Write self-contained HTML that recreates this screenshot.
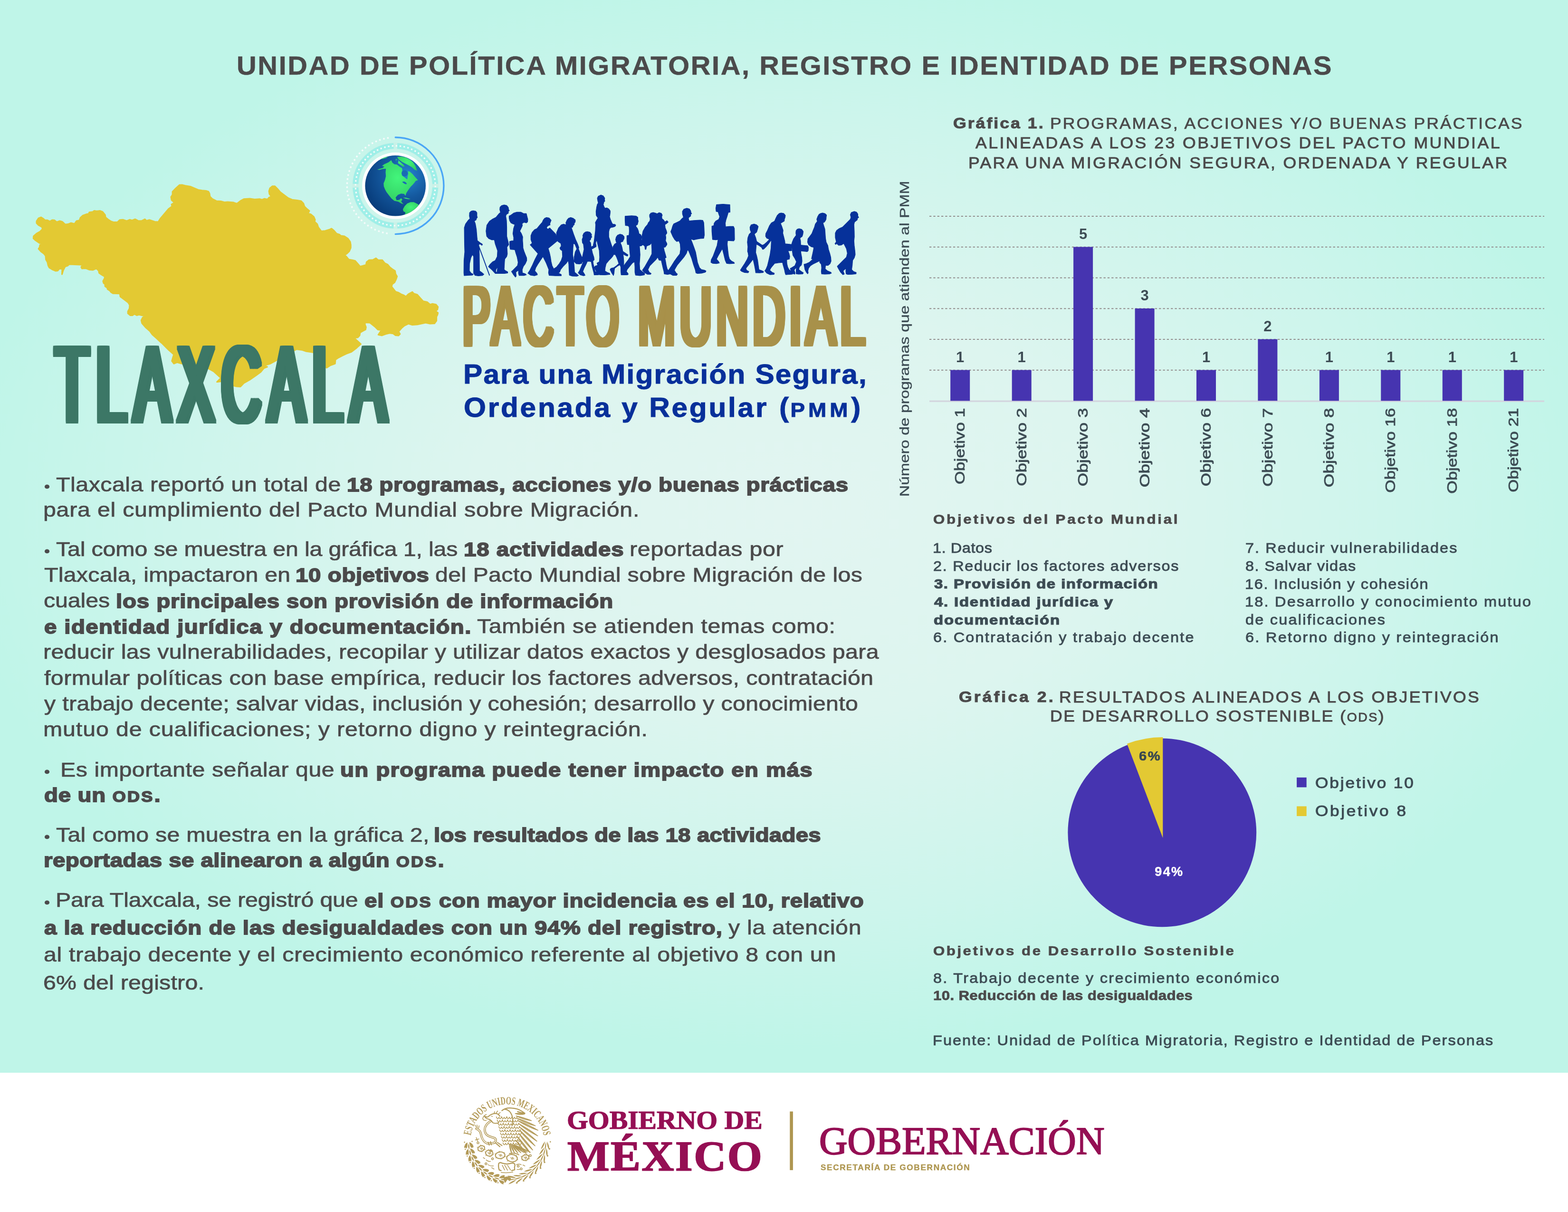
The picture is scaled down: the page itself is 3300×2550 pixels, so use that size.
<!DOCTYPE html>
<html lang="es">
<head>
<meta charset="utf-8">
<title>Tlaxcala — Pacto Mundial para una Migración Segura, Ordenada y Regular</title>
<style>
html,body{margin:0;padding:0}
body{width:3300px;height:2550px;position:relative;overflow:hidden;background:#ffffff;font-family:"Liberation Sans", sans-serif;}
#page{position:absolute;left:0;top:0;width:3300px;height:2550px;overflow:hidden;background:#fff}
#bg{position:absolute;left:0;top:0;width:3300px;height:2257px;background-color:#c0f5e9;
 background-image:radial-gradient(ellipse 1760px 1130px at 1660px 1080px, #e2f5f1 0%, #ddf5ef 38%, #cdf5ec 74%, #bff5e8 100%);}
#footer{position:absolute;left:0;top:2257px;width:3300px;height:293px;background:#ffffff}
svg#art{position:absolute;left:0;top:0}
.g{margin:0;padding:0;font-weight:400;font-size:0;position:static}
.t{position:absolute;white-space:pre;line-height:1;transform-origin:0 0;display:block;margin:0;padding:0}
.ss{font-family:"Liberation Sans", sans-serif}
.sf{font-family:"Liberation Serif", serif}
b.t{font-weight:700}
span.t{font-weight:400}
.sc{font-size:0.76em;letter-spacing:0.09em}
.sc2{font-size:0.76em;letter-spacing:0.15em}
svg text{white-space:pre}
</style>
</head>
<body>
<div id="page">
<div id="bg"></div>
<div id="footer"></div>
<svg id="art" width="3300" height="2550" viewBox="0 0 3300 2550">
<g id="map"><path d="M77.0 465.4 L81.1 459.2 L86.3 457.1 L91.5 460.2 L94.6 463.3 L99.8 463.3 L105.0 465.8 L110.1 462.9 L114.3 463.3 L119.5 467.1 L125.7 465.0 L130.9 466.4 L137.1 472.2 L143.3 471.6 L149.5 469.1 L156.8 471.0 L160.9 465.0 L167.2 463.7 L169.2 458.1 L174.4 453.4 L182.7 450.5 L186.9 449.8 L187.9 446.7 L195.2 445.7 L198.3 443.6 L203.5 444.2 L210.7 443.6 L215.9 445.7 L221.1 451.9 L222.1 457.1 L228.3 462.3 L233.5 465.8 L238.7 467.5 L247.0 467.5 L252.2 462.7 L259.4 462.3 L266.7 464.8 L272.9 462.3 L278.1 463.7 L284.3 461.2 L290.6 464.4 L297.8 464.8 L305.1 461.2 L308.2 464.4 L314.4 462.7 L319.6 464.4 L325.8 466.4 L333.1 467.1 L337.2 460.2 L354.8 439.5 L362.1 434.3 L361.1 430.1 L367.3 426.4 L361.1 420.8 L360.0 414.6 L363.1 409.4 L363.1 403.2 L370.4 395.9 L377.6 389.3 L383.9 389.1 L390.1 390.7 L400.5 392.4 L408.8 395.9 L417.1 399.4 L425.3 400.7 L433.6 401.5 L438.8 403.2 L440.9 407.3 L441.9 413.5 L447.1 418.7 L455.4 422.9 L464.7 423.5 L473.0 425.6 L479.3 425.0 L491.7 426.0 L490.4 426.0 L498.7 428.5 L505.9 422.9 L513.2 418.7 L525.6 418.1 L536.0 419.4 L546.4 418.7 L551.5 420.2 L556.7 418.1 L562.9 419.4 L566.1 415.6 L571.2 413.5 L567.1 408.4 L566.1 402.1 L568.1 395.9 L573.3 391.8 L578.5 391.8 L583.7 397.0 L589.9 404.2 L598.2 410.4 L606.5 416.7 L614.8 420.2 L625.2 421.4 L633.5 422.9 L638.6 428.1 L640.7 434.3 L645.9 439.5 L651.1 443.6 L648.4 448.8 L654.2 450.9 L660.4 456.1 L663.1 462.3 L662.1 466.4 L667.7 471.6 L669.7 477.8 L676.0 486.5 L684.3 485.7 L693.6 483.0 L697.7 480.9 L702.9 485.1 L708.1 491.3 L714.3 493.4 L717.4 496.1 L724.7 496.9 L732.0 501.7 L737.1 508.9 L738.2 515.2 L738.2 521.4 L735.1 528.6 L729.9 533.8 L724.7 536.9 L728.8 539.6 L734.0 545.9 L741.3 547.3 L747.5 548.8 L751.7 553.5 L757.9 560.8 L764.1 559.1 L770.3 557.3 L771.4 551.5 L776.5 547.3 L784.8 546.7 L791.1 543.2 L796.2 547.3 L804.5 547.3 L809.7 553.5 L815.9 556.6 L820.1 561.8 L825.3 566.0 L831.5 570.1 L832.5 576.3 L835.6 581.5 L833.6 587.7 L830.5 594.0 L825.3 598.1 L824.2 603.3 L828.4 608.5 L832.5 613.7 L838.8 615.7 L843.9 618.8 L849.1 620.9 L854.3 624.0 L859.5 618.8 L867.8 614.3 L870.9 617.8 L878.2 619.9 L884.4 627.1 L890.6 633.8 L898.9 635.4 L905.1 640.6 L910.3 639.2 L917.6 640.6 L921.7 645.8 L920.7 651.0 L916.5 654.5 L921.7 658.2 L920.7 662.4 L918.6 666.5 L918.6 674.8 L914.4 680.6 L905.1 681.1 L895.8 679.0 L886.5 681.1 L878.2 682.7 L867.8 683.5 L859.5 681.1 L851.2 685.2 L845.0 690.4 L838.8 697.6 L841.9 702.8 L838.8 705.9 L832.5 705.5 L827.4 701.8 L820.1 700.8 L811.8 702.8 L803.5 705.9 L796.2 704.3 L799.4 699.7 L802.5 694.5 L795.2 693.5 L789.0 687.3 L778.6 679.0 L768.2 678.4 L768.2 683.1 L770.3 688.3 L769.3 693.5 L763.1 696.6 L757.9 699.7 L756.8 705.9 L752.7 710.1 L745.4 711.1 L759.3 723.8 L750.5 732.0 L739.6 740.3 L728.6 744.4 L720.3 748.5 L712.1 752.6 L706.0 756.8 L705.2 765.0 L695.6 768.6 L687.4 773.8 L683.2 771.3 L662.6 742.2 L657.1 741.1 L643.4 738.9 L635.2 736.2 L624.2 734.8 L569.2 765.0 L555.5 769.1 L562.4 771.9 L555.5 774.6 L548.6 782.9 L539.0 789.7 L525.3 799.3 L512.9 806.2 L506.0 813.6 L497.8 813.1 L475.8 807.6 L470.3 802.1 L456.6 803.5 L464.8 795.2 L449.7 781.5 L437.4 774.6 L418.1 767.7 L382.4 765.0 L372.8 762.3 L365.9 765.0 L361.8 759.5 L363.7 752.6 L365.9 745.8 L354.9 736.2 L341.2 722.4 L338.2 720.0 L330.0 712.2 L320.6 703.9 L315.4 696.6 L307.1 689.4 L298.8 680.0 L297.4 673.8 L299.9 668.6 L304.7 664.1 L297.8 663.4 L292.6 662.0 L288.1 663.4 L282.7 660.7 L279.1 663.4 L274.0 663.4 L269.2 659.3 L269.2 655.1 L272.5 648.9 L272.9 641.7 L269.8 636.5 L263.6 631.7 L253.2 624.0 L252.2 617.8 L237.7 617.2 L233.5 614.7 L230.8 611.2 L226.3 608.5 L225.6 605.4 L221.1 602.3 L221.1 598.1 L218.0 595.6 L216.9 591.5 L220.0 585.7 L220.5 581.9 L213.8 578.0 L208.6 574.3 L207.6 569.5 L203.0 564.9 L195.2 568.0 L187.9 567.4 L180.6 564.5 L172.4 564.9 L170.9 561.8 L174.0 557.3 L157.8 556.6 L145.8 556.0 L142.3 559.1 L137.1 560.8 L132.9 569.1 L130.5 577.0 L130.9 565.6 L124.7 565.6 L121.5 569.5 L117.4 570.1 L110.1 567.0 L103.5 562.9 L101.4 558.7 L99.8 551.5 L96.7 546.3 L96.0 538.4 L92.5 533.8 L86.3 529.3 L81.1 523.5 L83.2 520.3 L84.2 515.2 L89.0 513.1 L83.2 511.4 L74.9 505.8 L70.3 501.7 L70.7 496.9 L77.0 491.3 L84.2 487.2 L89.4 482.0 L88.4 477.8 L81.1 473.7 L77.0 469.5Z" fill="#e3c933" stroke="#e3c933" stroke-width="3" stroke-linejoin="round"/></g>
<g id="globe"><defs><radialGradient id="gl" cx="0.68" cy="0.32" r="0.85"><stop offset="0" stop-color="#2484d0"/><stop offset="0.45" stop-color="#14589e"/><stop offset="1" stop-color="#043470"/></radialGradient><radialGradient id="gg" cx="0.5" cy="0.4" r="0.7"><stop offset="0" stop-color="#43f57b"/><stop offset="1" stop-color="#2fc75f"/></radialGradient><clipPath id="gc"><circle cx="832.2" cy="390.8" r="63.8"/></clipPath></defs>
<circle cx="832.2" cy="390.8" r="84" fill="none" stroke="#c9ece4" stroke-width="14" opacity="0.55"/>
<path d="M916.11 394.61 A84.0 84.0 0 0 1 836.01 474.71" fill="none" stroke="#9eefe8" stroke-width="12"/>
<path d="M828.39 474.71 A84.0 84.0 0 0 1 748.29 394.61" fill="none" stroke="#9eefe8" stroke-width="12"/>
<path d="M748.29 386.99 A84.0 84.0 0 0 1 828.39 306.89" fill="none" stroke="#9eefe8" stroke-width="12"/>
<path d="M836.01 306.89 A84.0 84.0 0 0 1 916.11 386.99" fill="none" stroke="#9eefe8" stroke-width="12"/>
<circle cx="832.2" cy="390.8" r="84" fill="none" stroke="#f6fbfa" stroke-width="3.2" stroke-dasharray="3.2 5.047"/>
<path d="M818.03 289.99 A101.8 101.8 0 0 0 818.03 491.61" fill="none" stroke="#f6fbfa" stroke-width="3.4" stroke-dasharray="3.4 5.244"/>
<path d="M832.20 289.00 A101.8 101.8 0 0 1 832.20 492.60" fill="none" stroke="#4aa6f6" stroke-width="3.4" stroke-linecap="round"/>
<circle cx="832.2" cy="390.8" r="70" fill="#ffffff"/>
<circle cx="832.2" cy="390.8" r="63.8" fill="url(#gl)"/>
<g clip-path="url(#gc)" fill="url(#gg)">
<path d="M793.8 356.8 L799.9 355.1 L805.4 353.4 L808.8 350.4 L804.0 349.0 L808.8 345.6 L817.6 341.5 L823.4 337.0 L825.8 342.2 L829.9 345.6 L835.3 346.3 L840.8 350.4 L846.2 353.8 L846.9 358.6 L844.9 364.0 L846.2 369.5 L850.3 372.2 L854.4 375.6 L857.1 377.6 L857.8 372.2 L859.2 365.4 L858.5 359.9 L862.6 361.3 L868.0 366.0 L873.5 372.2 L879.6 379.0 L874.9 380.6 L872.1 384.4 L868.7 388.5 L864.6 392.6 L859.9 398.7 L855.1 406.2 L853.3 412.0 L850.6 407.9 L844.2 407.3 L837.4 410.1 L832.6 415.5 L834.7 421.2 L840.1 420.5 L844.2 417.1 L846.9 419.9 L844.2 423.7 L847.6 428.0 L850.3 429.7 L844.9 428.3 L838.1 424.2 L829.9 422.6 L823.8 417.4 L818.3 410.6 L813.5 404.2 L810.1 398.1 L807.8 391.9 L807.3 385.8 L810.1 379.0 L812.2 370.8 L811.5 362.6 L812.2 355.1 L805.4 355.6 L798.6 357.5Z"/>
<path d="M836.0 330.2 L844.9 329.4 L854.4 331.6 L862.6 335.7 L869.4 341.5 L874.2 349.0 L877.8 359.2 L872.8 357.2 L866.7 351.7 L859.9 347.7 L853.1 344.3 L846.2 340.8 L840.8 336.8 L837.4 333.4Z"/>
<path d="M833.3 334.0 L837.4 335.4 L840.8 339.5 L844.9 342.9 L849.0 346.3 L851.7 350.4 L847.6 350.4 L842.8 347.0 L838.7 344.3 L834.7 340.8 L832.6 337.4Z"/>
<path d="M847.9 440.3 L851.7 433.5 L857.1 428.0 L864.0 425.3 L870.8 425.3 L876.5 428.0 L881.4 430.8 L877.6 436.9 L872.1 442.3 L865.3 447.1 L857.8 450.5 L851.7 451.9 L853.3 447.1 L849.0 444.4Z"/>
<path d="M797.2 335.7 L805.4 332.0 L816.5 329.7 L813.5 332.1 L805.4 334.3Z"/>
<path d="M847.6 415.5 L854.4 416.0 L859.9 417.4 L864.0 418.8 L859.9 419.2 L853.1 417.8Z"/>
</g>
<g clip-path="url(#gc)" fill="#1a6ab4"><ellipse cx="851.7" cy="364.7" rx="6.2" ry="6.5"/><path d="M846.2 382.8 L850.3 381.7 L854.4 383.8 L856.5 387.2 L853.1 387.4 L849.6 385.5Z"/><path d="M833.3 338.1 L836.0 334.0 L838.7 338.1 L837.4 343.6 L834.7 344.3Z"/></g></g>
<g id="people"><g fill="#06319a" stroke="#06319a" stroke-width="1.2" stroke-linejoin="round">
<path d="M995.7 443.3 L1001.2 444.3 L1003.7 447.7 L1003.7 454.6 L1004.6 457.3 L1002.9 459.4 L1001.9 462.8 L998.2 464.9 L1000.5 471.0 L1002.6 483.4 L1003.7 497.1 L1004.6 506.1 L1010.8 510.9 L1014.3 512.9 L1015.4 515.0 L1013.8 516.1 L1010.8 513.4 L1007.4 514.3 L1008.4 520.5 L1008.8 534.2 L1009.2 569.9 L1014.9 574.1 L1018.4 577.1 L1015.6 579.6 L1006.7 580.5 L999.8 579.3 L996.8 574.8 L996.8 539.7 L994.3 535.6 L990.9 542.5 L988.2 554.8 L987.9 569.9 L991.6 574.8 L996.0 577.1 L994.3 578.9 L984.0 579.3 L976.8 579.8 L976.2 574.1 L976.5 548.0 L978.1 530.1 L977.6 513.6 L977.2 479.3 L979.9 471.0 L985.4 463.5 L989.1 460.1 L987.9 454.6 L988.2 447.7 L991.3 444.3Z"/>
<path d="M1061.0 431.2 L1066.5 432.3 L1069.9 436.7 L1070.3 440.8 L1072.0 442.9 L1069.9 444.9 L1069.9 448.4 L1065.8 451.1 L1064.4 454.6 L1066.0 464.2 L1066.5 477.9 L1066.5 497.1 L1069.9 510.9 L1070.6 515.0 L1068.5 517.7 L1066.9 519.8 L1067.8 534.2 L1066.5 539.7 L1062.3 545.2 L1061.6 554.8 L1061.0 567.2 L1064.4 569.9 L1068.5 572.0 L1068.5 574.3 L1061.6 575.4 L1047.9 575.2 L1045.9 571.3 L1047.9 560.3 L1043.8 567.2 L1043.1 571.3 L1047.9 575.4 L1042.4 575.4 L1036.2 568.6 L1028.0 561.0 L1031.4 556.2 L1036.9 550.7 L1042.4 548.0 L1046.5 539.7 L1047.2 527.4 L1042.4 513.6 L1040.4 504.7 L1034.9 504.7 L1028.7 502.0 L1024.3 497.1 L1022.9 486.2 L1024.6 473.8 L1030.1 465.5 L1036.9 460.7 L1043.8 457.3 L1050.0 449.8 L1053.4 447.0 L1051.8 440.8 L1052.3 436.0 L1055.5 432.6Z"/>
<path d="M1071.5 454.6 L1075.4 452.5 L1080.9 448.4 L1087.7 446.3 L1096.0 446.3 L1101.5 449.1 L1107.7 449.3 L1109.0 454.6 L1110.8 461.4 L1110.4 466.9 L1107.7 469.0 L1102.9 467.6 L1098.7 470.4 L1099.4 474.5 L1097.4 479.3 L1095.3 483.4 L1093.9 486.2 L1097.4 491.6 L1100.1 498.5 L1099.8 505.4 L1100.4 513.6 L1100.8 521.9 L1102.9 528.7 L1105.6 535.6 L1108.4 542.5 L1108.6 548.0 L1105.6 554.8 L1101.5 560.3 L1099.0 567.2 L1099.4 574.1 L1105.6 576.1 L1107.7 578.2 L1102.9 579.6 L1092.6 579.6 L1091.2 575.4 L1091.2 568.6 L1089.1 569.9 L1085.7 572.7 L1086.4 580.9 L1084.7 583.0 L1080.9 578.2 L1076.5 571.3 L1079.5 568.6 L1083.6 564.5 L1089.1 559.0 L1090.5 552.1 L1088.4 541.1 L1085.7 532.9 L1083.6 525.3 L1074.0 524.6 L1072.9 519.1 L1072.6 508.1 L1076.8 506.8 L1080.9 506.5 L1081.2 499.9 L1079.5 491.6 L1080.9 480.7 L1083.6 472.4 L1079.5 471.0 L1075.4 469.0 L1072.6 464.2 L1071.5 458.7Z"/>
<path d="M1150.2 457.6 L1155.7 458.7 L1159.9 463.5 L1158.5 466.9 L1157.1 471.0 L1157.8 473.1 L1154.4 474.5 L1151.6 476.5 L1150.2 479.3 L1153.0 482.3 L1157.1 479.6 L1169.5 492.3 L1172.9 506.8 L1153.7 522.6 L1156.4 531.5 L1158.5 541.1 L1159.9 550.7 L1161.9 559.0 L1165.4 565.8 L1174.3 574.1 L1181.2 577.5 L1181.2 580.2 L1168.8 580.2 L1155.7 579.3 L1154.4 574.1 L1155.1 567.2 L1149.6 553.5 L1142.7 539.7 L1137.2 548.0 L1131.7 556.2 L1127.6 563.1 L1125.5 569.9 L1130.3 575.4 L1131.0 578.2 L1124.8 580.2 L1116.6 578.9 L1111.1 574.8 L1115.2 568.6 L1120.7 557.6 L1126.2 545.2 L1132.4 533.5 L1115.9 515.0 L1120.0 511.6 L1117.3 504.0 L1117.3 495.8 L1120.0 488.9 L1124.8 483.4 L1130.3 480.7 L1135.8 473.8 L1141.3 467.6 L1143.4 462.8 L1146.1 459.4Z"/>
<path d="M1201.1 457.6 L1206.6 459.4 L1210.7 462.8 L1210.7 466.9 L1208.6 469.7 L1208.6 472.4 L1205.9 475.2 L1205.2 477.9 L1202.4 478.6 L1204.5 484.8 L1207.3 493.0 L1211.4 504.0 L1215.5 512.9 L1218.2 520.5 L1217.6 523.9 L1221.0 532.9 L1224.4 541.1 L1225.8 549.3 L1224.4 554.1 L1219.6 555.5 L1212.7 554.8 L1208.6 550.7 L1208.4 541.1 L1210.7 530.1 L1214.1 523.9 L1210.0 513.6 L1206.6 512.3 L1205.9 521.9 L1205.2 535.6 L1207.3 548.0 L1208.6 561.7 L1209.3 572.7 L1214.1 576.8 L1217.6 579.6 L1214.1 581.2 L1204.5 580.9 L1198.3 578.9 L1197.6 568.6 L1197.0 554.8 L1195.6 548.0 L1192.1 553.5 L1185.3 560.3 L1179.8 567.2 L1177.7 572.7 L1174.3 574.1 L1165.4 565.8 L1171.5 561.7 L1177.0 554.8 L1181.2 548.0 L1183.9 539.7 L1183.2 527.4 L1179.8 525.3 L1178.4 521.9 L1181.2 517.7 L1180.5 512.3 L1174.3 508.1 L1170.9 498.5 L1171.5 488.9 L1175.7 479.3 L1181.2 473.1 L1186.0 471.7 L1192.1 473.1 L1190.8 469.0 L1193.5 462.8 L1196.3 459.4Z"/>
<path d="M1236.1 487.3 L1241.6 488.6 L1245.0 493.0 L1244.6 497.1 L1245.7 498.5 L1243.7 500.6 L1243.0 504.0 L1240.2 506.8 L1243.0 510.9 L1243.7 516.4 L1244.1 519.8 L1249.8 516.4 L1254.6 515.7 L1254.6 519.1 L1248.5 522.6 L1245.0 523.9 L1247.1 532.9 L1249.8 541.1 L1250.5 546.6 L1247.8 549.3 L1248.5 554.8 L1250.5 563.1 L1252.6 571.3 L1258.8 574.1 L1260.0 578.2 L1250.5 578.5 L1249.8 574.1 L1246.4 561.7 L1244.3 550.7 L1241.6 550.0 L1236.1 550.0 L1233.4 556.2 L1229.2 564.5 L1226.5 571.3 L1229.2 575.4 L1231.3 579.3 L1227.9 580.2 L1221.0 578.2 L1216.9 574.1 L1220.3 568.6 L1223.7 560.3 L1227.2 552.1 L1225.8 549.3 L1225.1 543.8 L1227.2 534.2 L1229.2 524.6 L1227.9 513.6 L1225.8 510.9 L1225.1 504.0 L1227.2 498.5 L1226.5 495.8 L1228.5 491.0 L1232.0 488.2Z"/>
<path d="M1264.7 410.3 L1269.5 412.0 L1272.7 416.8 L1272.3 420.9 L1273.0 423.0 L1270.9 425.0 L1270.5 427.8 L1269.5 429.8 L1270.9 434.0 L1273.0 438.1 L1277.1 437.4 L1281.2 439.5 L1284.2 443.6 L1284.2 447.7 L1283.7 451.8 L1282.9 455.9 L1284.6 461.4 L1287.4 468.3 L1289.5 471.7 L1294.3 472.1 L1296.0 473.8 L1294.3 476.5 L1290.1 477.9 L1285.3 478.6 L1282.6 482.0 L1281.2 487.5 L1281.2 498.5 L1284.0 506.8 L1286.7 515.0 L1289.5 523.2 L1292.2 532.9 L1290.1 538.4 L1286.7 542.5 L1281.2 548.0 L1275.7 554.8 L1273.7 563.1 L1273.0 569.9 L1278.5 573.4 L1282.6 574.8 L1283.7 577.5 L1273.0 578.5 L1262.0 578.2 L1256.5 574.1 L1253.0 567.2 L1251.0 562.4 L1253.0 559.6 L1257.9 558.3 L1256.5 553.5 L1261.3 550.7 L1262.0 541.1 L1261.3 527.4 L1257.9 513.6 L1255.8 504.0 L1253.7 510.9 L1254.4 516.4 L1251.7 518.4 L1248.5 515.7 L1250.3 508.1 L1251.7 497.1 L1253.0 486.2 L1253.7 472.4 L1253.0 468.3 L1255.1 464.2 L1258.5 458.7 L1254.8 453.2 L1254.4 444.9 L1255.8 435.3 L1257.2 429.8 L1259.2 427.1 L1257.9 421.6 L1257.2 416.8 L1259.2 412.7Z"/>
<path d="M1304.6 492.7 L1310.1 494.1 L1313.5 497.8 L1313.5 502.0 L1311.4 506.1 L1310.7 508.1 L1307.3 509.2 L1305.7 510.9 L1308.0 516.4 L1309.4 521.9 L1310.7 528.7 L1316.9 532.9 L1321.7 536.3 L1320.4 539.0 L1315.5 537.0 L1311.4 534.2 L1312.1 541.1 L1312.8 549.3 L1312.8 559.0 L1311.4 567.2 L1316.2 571.3 L1321.0 574.8 L1322.1 577.1 L1315.5 578.5 L1307.3 578.2 L1306.6 569.9 L1306.6 561.7 L1304.6 556.9 L1299.1 560.3 L1293.6 564.5 L1292.9 568.6 L1292.2 575.4 L1291.1 579.6 L1287.4 574.1 L1284.0 567.2 L1286.0 564.5 L1292.2 563.1 L1297.7 559.0 L1302.5 554.8 L1300.4 548.0 L1297.7 541.1 L1294.9 535.6 L1290.8 535.6 L1289.5 527.4 L1290.1 519.1 L1293.6 513.6 L1297.7 510.9 L1299.8 506.8 L1297.0 509.5 L1295.6 504.0 L1297.0 498.5 L1299.8 494.7Z"/>
<path d="M1315.5 454.8 L1329.3 453.9 L1338.9 454.6 L1342.3 457.3 L1342.3 461.4 L1343.3 465.5 L1342.3 469.0 L1341.6 472.4 L1338.9 473.8 L1338.2 476.5 L1341.6 480.7 L1343.7 486.2 L1344.7 491.6 L1348.5 493.7 L1350.6 498.5 L1349.9 504.0 L1351.3 509.5 L1352.6 515.0 L1349.9 517.1 L1345.8 517.7 L1346.5 527.4 L1347.1 535.6 L1346.5 545.2 L1345.8 554.8 L1346.5 567.2 L1351.3 571.3 L1356.8 575.4 L1356.1 578.5 L1347.1 579.8 L1337.5 578.9 L1336.2 572.7 L1336.2 561.7 L1335.5 550.7 L1330.7 553.5 L1325.2 560.3 L1319.7 567.2 L1318.3 571.3 L1321.7 575.4 L1321.0 578.2 L1314.2 578.5 L1308.0 578.2 L1307.3 573.4 L1311.4 561.7 L1316.9 553.5 L1322.4 546.6 L1326.5 539.7 L1325.2 527.4 L1324.5 515.0 L1320.4 514.3 L1319.4 506.8 L1319.4 495.8 L1323.8 495.1 L1324.5 486.2 L1324.1 477.9 L1322.4 475.2 L1316.2 474.5 L1315.5 464.2Z"/>
<path d="M1367.1 451.8 L1369.8 448.4 L1374.6 447.0 L1379.4 448.4 L1382.9 449.8 L1387.0 447.4 L1391.8 448.8 L1393.8 452.5 L1392.7 455.9 L1393.2 460.1 L1396.6 462.8 L1399.3 466.9 L1403.5 464.2 L1406.2 467.2 L1402.8 470.4 L1399.3 472.4 L1400.0 479.3 L1402.8 486.2 L1403.5 490.3 L1400.7 494.4 L1401.4 499.9 L1400.7 506.8 L1403.5 512.3 L1403.5 515.0 L1400.0 519.8 L1396.6 520.5 L1398.0 527.4 L1400.0 534.2 L1402.1 541.8 L1399.3 543.2 L1400.7 549.3 L1402.1 557.6 L1404.1 565.8 L1406.9 569.9 L1411.7 573.4 L1412.4 576.1 L1404.8 577.5 L1398.0 576.5 L1397.3 571.3 L1395.2 563.1 L1391.8 548.0 L1387.0 547.3 L1384.2 541.1 L1380.1 546.6 L1374.6 552.1 L1367.7 559.0 L1363.6 567.2 L1366.4 572.7 L1370.5 575.4 L1369.1 577.1 L1362.3 577.1 L1355.4 572.7 L1352.0 568.6 L1356.8 561.7 L1362.3 552.1 L1367.7 542.5 L1371.9 534.2 L1371.9 524.6 L1371.2 510.9 L1367.7 515.0 L1360.9 517.7 L1359.5 524.6 L1357.9 524.6 L1356.8 517.7 L1353.3 515.0 L1351.5 508.1 L1351.0 497.1 L1353.3 486.2 L1358.1 477.9 L1362.9 472.4 L1364.3 469.0 L1367.7 464.9 L1368.4 460.1 L1367.1 455.9Z"/>
<path d="M1445.4 438.1 L1450.9 439.5 L1453.6 443.6 L1454.3 447.7 L1455.7 449.3 L1453.6 451.1 L1453.6 454.6 L1450.9 456.6 L1448.8 458.7 L1450.2 464.9 L1459.8 463.9 L1473.5 463.1 L1479.0 463.5 L1481.1 468.3 L1481.8 479.3 L1482.4 494.4 L1481.1 501.3 L1473.5 502.0 L1465.3 503.3 L1459.8 504.7 L1453.6 502.6 L1457.0 510.9 L1460.5 520.5 L1463.9 530.1 L1466.0 541.1 L1468.0 552.1 L1472.1 563.1 L1476.3 567.2 L1483.1 568.6 L1485.9 570.2 L1484.5 572.7 L1476.3 574.8 L1468.0 575.4 L1464.6 574.1 L1463.2 567.2 L1459.8 557.6 L1455.7 543.8 L1450.2 530.1 L1447.4 524.6 L1444.7 532.9 L1439.2 541.1 L1432.3 549.3 L1425.4 557.6 L1421.3 564.5 L1419.3 568.6 L1422.7 574.1 L1425.7 576.8 L1424.1 579.3 L1415.8 579.3 L1409.0 575.4 L1406.2 569.9 L1411.7 561.7 L1418.6 550.7 L1425.4 541.1 L1430.9 534.2 L1432.3 524.6 L1431.6 513.6 L1428.9 506.8 L1424.1 508.1 L1419.9 504.0 L1415.8 497.1 L1413.4 491.6 L1411.7 487.5 L1413.8 482.0 L1415.8 475.2 L1417.9 471.0 L1425.4 467.6 L1430.9 464.9 L1435.1 460.1 L1438.5 457.3 L1436.4 450.4 L1436.2 444.9 L1439.2 440.1Z"/>
<path d="M1507.9 430.5 L1521.6 429.6 L1536.0 430.5 L1536.4 446.3 L1532.6 447.0 L1530.5 454.6 L1527.8 462.8 L1526.4 469.7 L1527.1 477.2 L1535.3 476.3 L1543.6 476.3 L1545.6 480.7 L1546.0 504.0 L1544.3 506.8 L1531.2 506.1 L1530.5 513.6 L1531.9 527.4 L1533.3 538.4 L1535.3 545.2 L1539.5 549.3 L1544.9 552.1 L1545.6 554.1 L1535.3 554.8 L1529.1 554.1 L1526.4 548.0 L1523.0 534.2 L1520.2 523.2 L1516.1 530.1 L1511.3 538.4 L1507.9 545.2 L1512.7 550.7 L1514.0 553.5 L1507.9 554.6 L1499.6 554.1 L1496.2 552.1 L1496.9 546.6 L1501.0 538.4 L1505.1 527.4 L1509.2 516.4 L1511.3 504.0 L1506.5 504.7 L1499.6 504.0 L1498.2 486.2 L1498.2 475.9 L1502.4 474.5 L1503.0 469.7 L1506.5 464.9 L1512.7 461.4 L1514.7 455.9 L1512.7 450.4 L1511.3 445.6 L1507.2 444.9 L1506.5 438.1Z"/>
<path d="M1587.0 471.3 L1592.5 473.1 L1595.7 476.5 L1594.6 481.3 L1593.5 484.8 L1592.5 488.2 L1589.1 491.0 L1587.7 493.0 L1590.4 499.9 L1592.5 508.1 L1598.7 512.3 L1604.2 516.1 L1608.3 514.3 L1613.8 509.5 L1619.3 504.0 L1622.7 505.4 L1617.9 512.3 L1612.4 519.1 L1607.6 523.9 L1604.9 524.6 L1602.8 520.5 L1597.3 516.4 L1591.8 513.6 L1591.1 521.9 L1590.4 531.5 L1592.5 538.4 L1594.6 548.0 L1595.9 557.6 L1597.3 567.2 L1602.8 569.3 L1606.9 571.3 L1606.2 573.4 L1598.7 574.1 L1590.4 573.8 L1589.8 568.6 L1587.7 557.6 L1584.9 545.2 L1580.8 550.7 L1575.3 557.6 L1569.8 564.5 L1571.2 568.6 L1576.0 571.3 L1574.6 573.8 L1567.1 573.4 L1560.9 571.0 L1558.2 568.6 L1561.6 563.1 L1567.1 554.8 L1572.6 545.2 L1575.3 538.4 L1574.6 532.9 L1573.3 528.7 L1574.0 519.1 L1572.9 509.5 L1574.0 499.9 L1576.7 493.0 L1580.8 488.9 L1578.8 483.4 L1578.4 477.9 L1580.8 473.1Z"/>
<path d="M1639.9 449.1 L1644.0 448.1 L1649.5 449.1 L1652.9 453.2 L1652.3 457.3 L1650.9 461.4 L1650.6 464.9 L1647.4 466.9 L1644.7 468.6 L1642.6 469.7 L1645.4 476.5 L1648.1 484.8 L1647.4 490.3 L1649.5 498.5 L1651.6 506.8 L1652.3 512.9 L1659.1 513.6 L1666.0 514.3 L1666.0 527.4 L1658.4 528.0 L1660.5 532.9 L1662.1 539.7 L1661.2 545.2 L1657.7 545.9 L1655.7 546.6 L1656.1 554.8 L1657.7 561.7 L1660.5 567.2 L1666.0 571.3 L1669.4 574.1 L1667.4 576.8 L1660.5 577.5 L1653.6 577.9 L1652.3 574.1 L1650.9 567.2 L1648.1 557.6 L1646.8 552.1 L1638.5 552.8 L1630.3 554.1 L1626.2 559.0 L1622.0 564.5 L1620.0 568.6 L1624.8 572.7 L1629.6 574.8 L1628.9 577.5 L1620.7 577.9 L1613.8 574.8 L1609.7 569.9 L1612.4 565.8 L1615.2 559.0 L1617.9 548.0 L1620.7 535.6 L1622.7 521.9 L1623.4 506.8 L1619.3 505.4 L1617.9 502.6 L1613.8 501.3 L1611.3 497.1 L1611.7 491.6 L1615.2 484.8 L1619.3 475.2 L1623.4 469.0 L1627.5 466.9 L1630.3 464.9 L1633.0 458.7 L1635.8 453.2Z"/>
<path d="M1681.8 481.1 L1687.3 482.7 L1690.4 486.8 L1690.0 491.0 L1689.3 494.4 L1688.0 497.8 L1684.5 499.9 L1683.6 502.0 L1684.9 506.8 L1685.2 515.7 L1692.1 516.4 L1699.6 517.1 L1701.4 520.5 L1701.0 527.4 L1699.0 529.4 L1692.1 528.7 L1685.2 528.0 L1685.9 534.2 L1687.3 541.1 L1688.0 549.3 L1686.6 557.6 L1682.5 561.7 L1681.1 567.2 L1686.6 571.3 L1690.7 574.1 L1689.3 576.5 L1681.1 576.8 L1675.6 576.1 L1675.6 568.6 L1676.3 563.1 L1672.9 565.8 L1671.5 568.6 L1673.5 574.1 L1672.9 576.8 L1667.4 575.4 L1665.3 569.9 L1663.0 565.1 L1667.4 562.4 L1672.9 559.0 L1676.3 550.7 L1672.9 543.8 L1668.7 537.0 L1667.4 527.4 L1666.0 514.3 L1667.4 509.5 L1670.1 502.6 L1673.5 497.8 L1675.6 495.1 L1674.9 490.3 L1675.3 485.5 L1677.7 482.3Z"/>
<path d="M1731.2 448.1 L1736.0 449.3 L1739.5 452.5 L1738.8 457.3 L1738.5 461.4 L1736.7 464.9 L1734.7 467.6 L1731.9 468.3 L1733.3 473.8 L1736.0 482.0 L1736.7 491.6 L1737.4 501.3 L1738.8 509.5 L1742.2 516.4 L1743.6 524.6 L1746.3 532.9 L1748.4 541.1 L1749.1 549.3 L1747.0 554.8 L1742.9 558.3 L1737.4 558.3 L1736.7 565.8 L1741.5 569.9 L1748.4 572.7 L1749.8 574.8 L1745.7 576.5 L1736.0 576.8 L1729.2 576.5 L1728.5 571.3 L1729.2 563.1 L1728.5 556.2 L1725.1 552.1 L1725.1 548.7 L1719.6 551.4 L1711.3 555.5 L1705.8 559.0 L1701.7 564.5 L1700.3 569.9 L1701.0 574.1 L1699.6 576.1 L1696.9 572.7 L1694.1 567.2 L1692.1 556.2 L1696.9 554.8 L1703.1 552.1 L1708.6 547.3 L1711.3 545.2 L1707.9 544.5 L1709.9 535.6 L1712.0 526.0 L1712.7 520.5 L1707.2 519.1 L1701.7 515.0 L1699.6 509.5 L1700.3 502.6 L1704.5 497.1 L1708.6 491.6 L1711.3 484.8 L1714.1 477.9 L1716.1 471.0 L1720.2 465.5 L1718.9 461.4 L1720.9 455.9 L1723.7 451.1 L1727.1 449.1Z"/>
<path d="M1797.9 444.9 L1802.7 446.3 L1805.4 450.4 L1805.4 454.6 L1807.2 457.3 L1804.7 459.4 L1804.0 462.8 L1801.3 464.9 L1798.5 466.9 L1797.2 472.4 L1797.9 486.2 L1798.1 498.5 L1797.2 506.8 L1797.9 516.4 L1799.2 527.4 L1799.9 535.6 L1797.9 542.5 L1794.4 548.0 L1793.7 557.6 L1792.4 567.2 L1796.5 571.3 L1802.0 573.4 L1801.7 576.1 L1793.7 577.1 L1784.1 577.5 L1780.7 576.1 L1780.0 569.9 L1780.7 564.5 L1777.3 567.2 L1774.5 569.9 L1775.9 574.1 L1777.0 576.8 L1773.8 577.9 L1769.0 572.7 L1764.2 564.5 L1762.1 560.3 L1767.6 554.8 L1774.5 548.0 L1781.4 541.1 L1783.4 532.9 L1781.4 523.2 L1777.9 516.4 L1775.9 512.3 L1770.4 515.7 L1764.9 516.1 L1760.8 512.3 L1758.7 514.3 L1757.3 512.3 L1760.1 508.8 L1758.0 499.9 L1758.0 490.3 L1760.8 484.8 L1766.3 480.7 L1773.1 477.9 L1778.6 472.4 L1784.1 466.9 L1789.6 461.4 L1791.0 457.3 L1789.6 451.8 L1791.7 447.0Z"/>
<line x1="1007.8" y1="518.4" x2="1030.3" y2="579.6" stroke-width="1.8" stroke-linecap="butt"/>
</g></g>
<g id="chart1"><line x1="1956" y1="455.0" x2="3250" y2="455.0" stroke="#928d8d" stroke-width="2" stroke-dasharray="4.3 4.03"/>
<line x1="1956" y1="519.75" x2="3250" y2="519.75" stroke="#928d8d" stroke-width="2" stroke-dasharray="4.3 4.03"/>
<line x1="1956" y1="584.5" x2="3250" y2="584.5" stroke="#928d8d" stroke-width="2" stroke-dasharray="4.3 4.03"/>
<line x1="1956" y1="649.25" x2="3250" y2="649.25" stroke="#928d8d" stroke-width="2" stroke-dasharray="4.3 4.03"/>
<line x1="1956" y1="714.0" x2="3250" y2="714.0" stroke="#928d8d" stroke-width="2" stroke-dasharray="4.3 4.03"/>
<line x1="1956" y1="778.75" x2="3250" y2="778.75" stroke="#928d8d" stroke-width="2" stroke-dasharray="4.3 4.03"/>
<line x1="1956" y1="844.2" x2="3250" y2="844.2" stroke="#d3d5de" stroke-width="3.2"/>
<rect x="2000.2" y="778.5" width="41" height="64.8" fill="#4634b0"/>
<text x="2020.7" y="761.5" text-anchor="middle" font-size="31" font-weight="700" fill="#3d4c54" class="ss">1</text>
<text transform="translate(2030.3 1019.1) rotate(-90)" font-size="30" fill="#3d4c54" stroke="#3d4c54" stroke-width="0.8" textLength="160.6" lengthAdjust="spacingAndGlyphs" class="ss">Objetivo 1</text>
<rect x="2129.7" y="778.5" width="41" height="64.8" fill="#4634b0"/>
<text x="2150.2" y="761.5" text-anchor="middle" font-size="31" font-weight="700" fill="#3d4c54" class="ss">1</text>
<text transform="translate(2159.8 1022.7) rotate(-90)" font-size="30" fill="#3d4c54" stroke="#3d4c54" stroke-width="0.8" textLength="164.2" lengthAdjust="spacingAndGlyphs" class="ss">Objetivo 2</text>
<rect x="2259.1" y="519.5" width="41" height="323.8" fill="#4634b0"/>
<text x="2279.6" y="502.5" text-anchor="middle" font-size="31" font-weight="700" fill="#3d4c54" class="ss">5</text>
<text transform="translate(2289.2 1023.2) rotate(-90)" font-size="30" fill="#3d4c54" stroke="#3d4c54" stroke-width="0.8" textLength="164.7" lengthAdjust="spacingAndGlyphs" class="ss">Objetivo 3</text>
<rect x="2388.6" y="649.0" width="41" height="194.2" fill="#4634b0"/>
<text x="2409.1" y="632.0" text-anchor="middle" font-size="31" font-weight="700" fill="#3d4c54" class="ss">3</text>
<text transform="translate(2418.7 1025.3) rotate(-90)" font-size="30" fill="#3d4c54" stroke="#3d4c54" stroke-width="0.8" textLength="166.8" lengthAdjust="spacingAndGlyphs" class="ss">Objetivo 4</text>
<rect x="2518.0" y="778.5" width="41" height="64.8" fill="#4634b0"/>
<text x="2538.5" y="761.5" text-anchor="middle" font-size="31" font-weight="700" fill="#3d4c54" class="ss">1</text>
<text transform="translate(2548.1 1023.2) rotate(-90)" font-size="30" fill="#3d4c54" stroke="#3d4c54" stroke-width="0.8" textLength="164.7" lengthAdjust="spacingAndGlyphs" class="ss">Objetivo 6</text>
<rect x="2647.4" y="713.7" width="41" height="129.5" fill="#4634b0"/>
<text x="2667.9" y="696.7" text-anchor="middle" font-size="31" font-weight="700" fill="#3d4c54" class="ss">2</text>
<text transform="translate(2677.5 1023.7) rotate(-90)" font-size="30" fill="#3d4c54" stroke="#3d4c54" stroke-width="0.8" textLength="165.2" lengthAdjust="spacingAndGlyphs" class="ss">Objetivo 7</text>
<rect x="2776.9" y="778.5" width="41" height="64.8" fill="#4634b0"/>
<text x="2797.4" y="761.5" text-anchor="middle" font-size="31" font-weight="700" fill="#3d4c54" class="ss">1</text>
<text transform="translate(2807.0 1025.3) rotate(-90)" font-size="30" fill="#3d4c54" stroke="#3d4c54" stroke-width="0.8" textLength="166.8" lengthAdjust="spacingAndGlyphs" class="ss">Objetivo 8</text>
<rect x="2906.3" y="778.5" width="41" height="64.8" fill="#4634b0"/>
<text x="2926.8" y="761.5" text-anchor="middle" font-size="31" font-weight="700" fill="#3d4c54" class="ss">1</text>
<text transform="translate(2936.4 1036.7) rotate(-90)" font-size="30" fill="#3d4c54" stroke="#3d4c54" stroke-width="0.8" textLength="178.2" lengthAdjust="spacingAndGlyphs" class="ss">Objetivo 16</text>
<rect x="3035.8" y="778.5" width="41" height="64.8" fill="#4634b0"/>
<text x="3056.3" y="761.5" text-anchor="middle" font-size="31" font-weight="700" fill="#3d4c54" class="ss">1</text>
<text transform="translate(3065.9 1038.7) rotate(-90)" font-size="30" fill="#3d4c54" stroke="#3d4c54" stroke-width="0.8" textLength="180.2" lengthAdjust="spacingAndGlyphs" class="ss">Objetivo 18</text>
<rect x="3165.2" y="778.5" width="41" height="64.8" fill="#4634b0"/>
<text x="3185.8" y="761.5" text-anchor="middle" font-size="31" font-weight="700" fill="#3d4c54" class="ss">1</text>
<text transform="translate(3195.3 1035.7) rotate(-90)" font-size="30" fill="#3d4c54" stroke="#3d4c54" stroke-width="0.8" textLength="177.2" lengthAdjust="spacingAndGlyphs" class="ss">Objetivo 21</text>
<text transform="translate(1913.4 1045) rotate(-90)" font-size="28.5" fill="#3d4c54" stroke="#3d4c54" stroke-width="0.4" textLength="664.5" lengthAdjust="spacingAndGlyphs" class="ss">Número de programas que atienden al PMM</text></g>
<g id="chart2"><circle cx="2445.8" cy="1751.8" r="198.4" fill="#4634b0"/>
<path d="M2447.3 1763.1 L2447.3 1550.9 A212.2 212.2 0 0 0 2371.9 1564.7 Z" fill="#e3c933"/>
<rect x="2729.1" y="1635.8" width="20.6" height="20.6" fill="#4634b0"/>
<rect x="2729.1" y="1696.4" width="20.6" height="20.6" fill="#e3c933"/></g>
<g id="seal"><path id="sealarc" d="M990.83 2389.29 A77.4 77.4 0 0 1 1143.93 2389.29" fill="none" stroke="none"/>
<text font-size="23.5" font-weight="700" fill="#b39a58" class="sf" textLength="220.2" lengthAdjust="spacingAndGlyphs"><textPath href="#sealarc" textLength="220.2" lengthAdjust="spacingAndGlyphs">ESTADOS UNIDOS MEXICANOS</textPath></text>
<g fill="#b39a58">
<g transform="translate(986.3 2409.3) rotate(-276.0)"><path d="M-6 -2 Q-3 -9 5 -10 Q4 -6 7 -5 Q2 -2 -6 -2Z"/><path d="M-6 2 Q-3 9 5 10 Q4 6 7 5 Q2 2 -6 2Z"/><path d="M-3 0 Q3 -3 9 0 Q3 3 -3 0Z"/><circle cx="-7" cy="-8" r="1.3"/><circle cx="-7" cy="8" r="1.3"/></g>
<g transform="translate(988.8 2422.5) rotate(-285.5)"><path d="M-6 -2 Q-3 -9 5 -10 Q4 -6 7 -5 Q2 -2 -6 -2Z"/><path d="M-6 2 Q-3 9 5 10 Q4 6 7 5 Q2 2 -6 2Z"/><path d="M-3 0 Q3 -3 9 0 Q3 3 -3 0Z"/><circle cx="-7" cy="-8" r="1.3"/><circle cx="-7" cy="8" r="1.3"/></g>
<g transform="translate(993.5 2435.2) rotate(-295.0)"><path d="M-6 -2 Q-3 -9 5 -10 Q4 -6 7 -5 Q2 -2 -6 -2Z"/><path d="M-6 2 Q-3 9 5 10 Q4 6 7 5 Q2 2 -6 2Z"/><path d="M-3 0 Q3 -3 9 0 Q3 3 -3 0Z"/><circle cx="-7" cy="-8" r="1.3"/><circle cx="-7" cy="8" r="1.3"/></g>
<g transform="translate(1000.2 2446.9) rotate(-304.5)"><path d="M-6 -2 Q-3 -9 5 -10 Q4 -6 7 -5 Q2 -2 -6 -2Z"/><path d="M-6 2 Q-3 9 5 10 Q4 6 7 5 Q2 2 -6 2Z"/><path d="M-3 0 Q3 -3 9 0 Q3 3 -3 0Z"/><circle cx="-7" cy="-8" r="1.3"/><circle cx="-7" cy="8" r="1.3"/></g>
<g transform="translate(1008.7 2457.3) rotate(-314.0)"><path d="M-6 -2 Q-3 -9 5 -10 Q4 -6 7 -5 Q2 -2 -6 -2Z"/><path d="M-6 2 Q-3 9 5 10 Q4 6 7 5 Q2 2 -6 2Z"/><path d="M-3 0 Q3 -3 9 0 Q3 3 -3 0Z"/><circle cx="-7" cy="-8" r="1.3"/><circle cx="-7" cy="8" r="1.3"/></g>
<g transform="translate(1018.9 2466.2) rotate(-323.5)"><path d="M-6 -2 Q-3 -9 5 -10 Q4 -6 7 -5 Q2 -2 -6 -2Z"/><path d="M-6 2 Q-3 9 5 10 Q4 6 7 5 Q2 2 -6 2Z"/><path d="M-3 0 Q3 -3 9 0 Q3 3 -3 0Z"/><circle cx="-7" cy="-8" r="1.3"/><circle cx="-7" cy="8" r="1.3"/></g>
<g transform="translate(1030.4 2473.4) rotate(-333.0)"><path d="M-6 -2 Q-3 -9 5 -10 Q4 -6 7 -5 Q2 -2 -6 -2Z"/><path d="M-6 2 Q-3 9 5 10 Q4 6 7 5 Q2 2 -6 2Z"/><path d="M-3 0 Q3 -3 9 0 Q3 3 -3 0Z"/><circle cx="-7" cy="-8" r="1.3"/><circle cx="-7" cy="8" r="1.3"/></g>
<g transform="translate(1042.9 2478.5) rotate(-342.5)"><path d="M-6 -2 Q-3 -9 5 -10 Q4 -6 7 -5 Q2 -2 -6 -2Z"/><path d="M-6 2 Q-3 9 5 10 Q4 6 7 5 Q2 2 -6 2Z"/><path d="M-3 0 Q3 -3 9 0 Q3 3 -3 0Z"/><circle cx="-7" cy="-8" r="1.3"/><circle cx="-7" cy="8" r="1.3"/></g>
<g transform="translate(1056.0 2481.4) rotate(-352.0)"><path d="M-6 -2 Q-3 -9 5 -10 Q4 -6 7 -5 Q2 -2 -6 -2Z"/><path d="M-6 2 Q-3 9 5 10 Q4 6 7 5 Q2 2 -6 2Z"/><path d="M-3 0 Q3 -3 9 0 Q3 3 -3 0Z"/><circle cx="-7" cy="-8" r="1.3"/><circle cx="-7" cy="8" r="1.3"/></g>
<g transform="translate(1148.4 2409.3) rotate(-264.0)"><path d="M-8 -2 Q0 -8 10 -9 Q4 -3 -8 -2Z"/><path d="M-8 2 Q0 8 10 9 Q4 3 -8 2Z"/><path d="M-6 0 Q2 -2.4 11 0 Q2 2.4 -6 0Z"/><circle cx="-8" cy="-9" r="1.4"/></g>
<g transform="translate(1145.9 2422.5) rotate(-254.5)"><path d="M-8 -2 Q0 -8 10 -9 Q4 -3 -8 -2Z"/><path d="M-8 2 Q0 8 10 9 Q4 3 -8 2Z"/><path d="M-6 0 Q2 -2.4 11 0 Q2 2.4 -6 0Z"/><circle cx="-8" cy="-9" r="1.4"/></g>
<g transform="translate(1141.2 2435.2) rotate(-245.0)"><path d="M-8 -2 Q0 -8 10 -9 Q4 -3 -8 -2Z"/><path d="M-8 2 Q0 8 10 9 Q4 3 -8 2Z"/><path d="M-6 0 Q2 -2.4 11 0 Q2 2.4 -6 0Z"/><circle cx="-8" cy="-9" r="1.4"/></g>
<g transform="translate(1134.5 2446.9) rotate(-235.5)"><path d="M-8 -2 Q0 -8 10 -9 Q4 -3 -8 -2Z"/><path d="M-8 2 Q0 8 10 9 Q4 3 -8 2Z"/><path d="M-6 0 Q2 -2.4 11 0 Q2 2.4 -6 0Z"/><circle cx="-8" cy="-9" r="1.4"/></g>
<g transform="translate(1126.0 2457.3) rotate(-226.0)"><path d="M-8 -2 Q0 -8 10 -9 Q4 -3 -8 -2Z"/><path d="M-8 2 Q0 8 10 9 Q4 3 -8 2Z"/><path d="M-6 0 Q2 -2.4 11 0 Q2 2.4 -6 0Z"/><circle cx="-8" cy="-9" r="1.4"/></g>
<g transform="translate(1115.9 2466.2) rotate(-216.5)"><path d="M-8 -2 Q0 -8 10 -9 Q4 -3 -8 -2Z"/><path d="M-8 2 Q0 8 10 9 Q4 3 -8 2Z"/><path d="M-6 0 Q2 -2.4 11 0 Q2 2.4 -6 0Z"/><circle cx="-8" cy="-9" r="1.4"/></g>
<g transform="translate(1104.4 2473.4) rotate(-207.0)"><path d="M-8 -2 Q0 -8 10 -9 Q4 -3 -8 -2Z"/><path d="M-8 2 Q0 8 10 9 Q4 3 -8 2Z"/><path d="M-6 0 Q2 -2.4 11 0 Q2 2.4 -6 0Z"/><circle cx="-8" cy="-9" r="1.4"/></g>
<g transform="translate(1091.9 2478.5) rotate(-197.5)"><path d="M-8 -2 Q0 -8 10 -9 Q4 -3 -8 -2Z"/><path d="M-8 2 Q0 8 10 9 Q4 3 -8 2Z"/><path d="M-6 0 Q2 -2.4 11 0 Q2 2.4 -6 0Z"/><circle cx="-8" cy="-9" r="1.4"/></g>
<g transform="translate(1078.7 2481.4) rotate(-188.0)"><path d="M-8 -2 Q0 -8 10 -9 Q4 -3 -8 -2Z"/><path d="M-8 2 Q0 8 10 9 Q4 3 -8 2Z"/><path d="M-6 0 Q2 -2.4 11 0 Q2 2.4 -6 0Z"/><circle cx="-8" cy="-9" r="1.4"/></g>
<path d="M1059.5 2479.1 L1064.5 2475.4 L1070.7 2475.4 L1075.7 2479.1 L1073.2 2485.3 L1068.2 2481.6 L1063.3 2489.1 L1060.8 2484.1Z"/>
</g>
<g fill="none" stroke="#b39a58" stroke-width="1.55" stroke-linecap="round" stroke-linejoin="round">
<path d="M1056.4 2336.7 Q1064.5 2329.8 1077.0 2331.3 Q1090.6 2332.3 1098.1 2337.9 L1104.6 2342.5 Q1096.9 2341.3 1089.4 2338.8" stroke-width="2.3"/>
<path d="M1062.0 2333.6 Q1073.2 2334.8 1077.6 2347.2 Q1080.7 2357.2 1077.6 2368.4" stroke-width="2.1"/>
<path d="M1084.4 2342.9 Q1094.2 2346.6 1104.3 2343.8 Q1094.4 2341.5 1084.4 2342.9Z"/>
<path d="M1089.4 2343.1 L1102.3 2343.7" stroke-width="1.1"/>
<path d="M1086.3 2347.9 Q1101.3 2355.9 1118.3 2357.8 Q1102.8 2351.1 1086.3 2347.9Z"/>
<path d="M1094.3 2350.4 L1115.1 2356.8" stroke-width="1.1"/>
<path d="M1088.1 2352.8 Q1106.2 2363.7 1126.7 2368.6 Q1108.1 2359.1 1088.1 2352.8Z"/>
<path d="M1097.8 2356.8 L1122.9 2367.1" stroke-width="1.1"/>
<path d="M1090.0 2357.8 Q1109.8 2370.9 1132.3 2378.1 Q1111.9 2366.4 1090.0 2357.8Z"/>
<path d="M1100.6 2362.9 L1128.1 2376.1" stroke-width="1.1"/>
<path d="M1091.3 2364.0 Q1109.7 2379.6 1131.7 2389.8 Q1112.4 2375.4 1091.3 2364.0Z"/>
<path d="M1101.4 2370.5 L1127.6 2387.2" stroke-width="1.1"/>
<path d="M1092.5 2370.3 Q1109.1 2388.1 1129.8 2401.0 Q1112.3 2384.2 1092.5 2370.3Z"/>
<path d="M1101.8 2377.9 L1126.1 2397.9" stroke-width="1.1"/>
<path d="M1092.9 2377.1 Q1107.2 2396.3 1126.1 2410.9 Q1110.8 2392.8 1092.9 2377.1Z"/>
<path d="M1101.2 2385.6 L1122.8 2407.6" stroke-width="1.1"/>
<path d="M1091.9 2384.6 Q1104.0 2404.2 1121.1 2419.6 Q1107.9 2401.0 1091.9 2384.6Z"/>
<path d="M1099.2 2393.3 L1118.2 2416.1" stroke-width="1.1"/>
<path d="M1089.4 2392.0 Q1099.9 2410.6 1115.5 2425.1 Q1103.9 2407.5 1089.4 2392.0Z"/>
<path d="M1095.9 2400.3 L1112.9 2421.8" stroke-width="1.1"/>
<path d="M1086.3 2399.5 Q1094.6 2415.9 1108.1 2428.3 Q1098.6 2412.8 1086.3 2399.5Z"/>
<path d="M1091.7 2406.7 L1105.9 2425.5" stroke-width="1.1"/>
<path d="M1044.6 2349.7 Q1047.3 2357.4 1050.1 2350.5 Q1052.8 2357.4 1055.6 2349.2 Q1058.3 2357.4 1061.0 2350.5 Q1063.8 2357.4 1066.5 2349.2 Q1069.2 2357.4 1072.0 2350.5 Q1074.7 2357.4 1077.5 2349.2 Q1080.2 2357.4 1082.9 2350.5 Q1085.7 2357.4 1088.4 2349.2"/>
<path d="M1046.4 2356.6 Q1049.1 2364.3 1051.8 2357.3 Q1054.6 2364.3 1057.3 2356.1 Q1060.0 2364.3 1062.8 2357.3 Q1065.5 2364.3 1068.2 2356.1 Q1071.0 2364.3 1073.7 2357.3 Q1076.5 2364.3 1079.2 2356.1 Q1081.9 2364.3 1084.7 2357.3 Q1087.4 2364.3 1090.1 2356.1"/>
<path d="M1048.1 2363.4 Q1050.8 2371.1 1053.6 2364.2 Q1056.3 2371.1 1059.0 2362.9 Q1061.8 2371.1 1064.5 2364.2 Q1067.3 2371.1 1070.0 2362.9 Q1072.7 2371.1 1075.5 2364.2 Q1078.2 2371.1 1080.9 2362.9 Q1083.7 2371.1 1086.4 2364.2 Q1089.1 2371.1 1091.9 2362.9"/>
<path d="M1049.8 2370.3 Q1052.6 2378.0 1055.3 2371.0 Q1058.0 2378.0 1060.8 2369.8 Q1063.5 2378.0 1066.3 2371.0 Q1069.0 2378.0 1071.7 2369.8 Q1074.5 2378.0 1077.2 2371.0 Q1079.9 2378.0 1082.7 2369.8 Q1085.4 2378.0 1088.1 2371.0 Q1090.9 2378.0 1093.6 2369.8"/>
<path d="M1051.6 2377.1 Q1054.3 2384.8 1057.1 2377.8 Q1059.8 2384.8 1062.5 2376.6 Q1065.3 2384.8 1068.0 2377.8 Q1070.7 2384.8 1073.5 2376.6 Q1076.2 2384.8 1078.9 2377.8 Q1081.7 2384.8 1084.4 2376.6 Q1087.2 2384.8 1089.9 2377.8 Q1092.6 2384.8 1095.4 2376.6"/>
<path d="M1053.3 2383.9 Q1056.1 2391.7 1058.8 2384.7 Q1061.5 2391.7 1064.3 2383.4 Q1067.0 2391.7 1069.7 2384.7 Q1072.5 2391.7 1075.2 2383.4 Q1077.9 2391.7 1080.7 2384.7 Q1083.4 2391.7 1086.2 2383.4 Q1088.9 2391.7 1091.6 2384.7 Q1094.4 2391.7 1097.1 2383.4"/>
<path d="M1055.1 2390.8 Q1057.8 2398.5 1060.5 2391.5 Q1063.3 2398.5 1066.0 2390.3 Q1068.7 2398.5 1071.5 2391.5 Q1074.2 2398.5 1077.0 2390.3 Q1079.7 2398.5 1082.4 2391.5 Q1085.2 2398.5 1087.9 2390.3 Q1090.6 2398.5 1093.4 2391.5"/>
<path d="M1056.8 2397.6 Q1059.5 2405.3 1062.3 2398.4 Q1065.0 2405.3 1067.7 2397.1 Q1070.5 2405.3 1073.2 2398.4 Q1076.0 2405.3 1078.7 2397.1 Q1081.4 2405.3 1084.2 2398.4 Q1086.9 2405.3 1089.6 2397.1 Q1092.4 2405.3 1095.1 2398.4"/>
<path d="M1058.5 2404.5 Q1061.3 2412.2 1064.0 2405.2 Q1066.8 2412.2 1069.5 2404.0 Q1072.2 2412.2 1075.0 2405.2 Q1077.7 2412.2 1080.4 2404.0 Q1083.2 2412.2 1085.9 2405.2 Q1088.6 2412.2 1091.4 2404.0 Q1094.1 2412.2 1096.9 2405.2"/>
<path d="M1072.0 2407.0 Q1072.5 2417.4 1077.0 2426.9 Q1075.5 2416.6 1072.0 2407.0Z"/>
<path d="M1074.2 2407.5 Q1077.0 2417.8 1083.4 2426.4 Q1079.8 2416.4 1074.2 2407.5Z"/>
<path d="M1076.5 2407.9 Q1081.6 2418.1 1089.9 2425.9 Q1084.0 2416.2 1076.5 2407.9Z"/>
<path d="M1078.7 2408.4 Q1086.2 2418.3 1096.4 2425.4 Q1088.3 2416.1 1078.7 2408.4Z"/>
<path d="M1080.9 2408.9 Q1090.7 2418.5 1102.8 2424.9 Q1092.5 2416.0 1080.9 2408.9Z"/>
<path d="M1083.2 2409.4 Q1095.2 2418.6 1109.3 2424.4 Q1096.8 2416.0 1083.2 2409.4Z"/>
<path d="M1085.4 2409.9 Q1099.8 2418.7 1115.8 2423.9 Q1101.0 2415.9 1085.4 2409.9Z"/>
<path d="M1052.1 2348.5 Q1047.1 2340.8 1038.4 2343.3 Q1032.2 2344.8 1027.2 2349.7 Q1023.2 2350.5 1019.5 2348.5 Q1022.5 2353.7 1029.7 2355.0 Q1034.7 2357.4 1037.1 2362.2 Q1042.1 2364.9 1049.6 2362.2" stroke-width="2.1"/>
<path d="M1039.6 2342.5 L1041.1 2338.8 M1044.6 2341.3 L1047.3 2337.5 M1049.3 2343.8 L1052.8 2340.5 M1034.7 2348.5 l1.5 0.5 M1023.5 2344.8 Q1017.2 2347.2 1016.0 2353.5 Q1017.2 2358.4 1023.5 2357.2"/>
<path d="M1032.2 2359.1 C1023.5 2364.7 1017.9 2372.1 1021.0 2382.1 C1023.5 2390.8 1034.7 2392.0 1040.9 2394.5 C1045.2 2397.3 1043.6 2402.2 1039.6 2404.7 L1027.2 2406.0 C1019.7 2404.5 1014.8 2397.0 1012.9 2389.5 C1011.6 2382.1 1009.8 2377.1 1002.3 2374.6" stroke-width="4.6"/>
<path d="M1032.2 2359.1 C1023.5 2364.7 1017.9 2372.1 1021.0 2382.1 C1023.5 2390.8 1034.7 2392.0 1040.9 2394.5 C1045.2 2397.3 1043.6 2402.2 1039.6 2404.7 L1027.2 2406.0 C1019.7 2404.5 1014.8 2397.0 1012.9 2389.5 C1011.6 2382.1 1009.8 2377.1 1002.3 2374.6" stroke="#ffffff" stroke-width="1.5"/>
<path d="M1002.3 2393.3 L1005.1 2401.0 M1000.5 2398.5 L1007.9 2396.3 M1002.3 2370.9 l-3 -4 M1004.8 2372.1 l-1 -5 M1007.3 2373.6 l1 -5"/>
<path d="M1043.4 2405.1 L1052.1 2412.6 M1046.5 2403.5 L1056.4 2410.1 M1027.2 2403.2 L1029.7 2409.4 M1032.2 2402.0 L1034.0 2408.8 M1072.0 2427.1 Q1083.2 2424.4 1091.9 2429.6" stroke-width="2.1"/>
<ellipse cx="1012.9" cy="2416.3" rx="7.2" ry="5.7" transform="rotate(-20 1012.9 2416.3)" stroke-width="2.1"/>
<path d="M1010.2 2415.0 l1.3 0.9"/>
<path d="M1013.9 2414.3 l1.3 0.9"/>
<path d="M1012.1 2417.8 l1.3 0.9"/>
<path d="M1015.6 2417.0 l1.3 0.9"/>
<path d="M1012.9 2416.0 l1.3 0.9"/>
<path d="M1019.5 2418.2 L1021.5 2418.9" stroke-width="1.2"/>
<path d="M1014.1 2421.8 L1014.5 2423.9" stroke-width="1.2"/>
<path d="M1007.5 2419.9 L1005.8 2421.2" stroke-width="1.2"/>
<path d="M1006.2 2414.4 L1004.2 2413.6" stroke-width="1.2"/>
<path d="M1011.7 2410.8 L1011.3 2408.7" stroke-width="1.2"/>
<path d="M1018.3 2412.7 L1019.9 2411.3" stroke-width="1.2"/>
<ellipse cx="1029.7" cy="2426.2" rx="7.7" ry="6.2" transform="rotate(10 1029.7 2426.2)" stroke-width="2.1"/>
<path d="M1026.9 2425.0 l1.3 0.9"/>
<path d="M1030.7 2424.2 l1.3 0.9"/>
<path d="M1028.9 2427.7 l1.3 0.9"/>
<path d="M1032.4 2427.0 l1.3 0.9"/>
<path d="M1029.7 2426.0 l1.3 0.9"/>
<path d="M1036.8 2428.3 L1038.8 2429.0" stroke-width="1.2"/>
<path d="M1031.0 2432.2 L1031.4 2434.3" stroke-width="1.2"/>
<path d="M1023.9 2430.2 L1022.3 2431.5" stroke-width="1.2"/>
<path d="M1022.6 2424.2 L1020.6 2423.4" stroke-width="1.2"/>
<path d="M1028.4 2420.2 L1028.0 2418.1" stroke-width="1.2"/>
<path d="M1035.5 2422.3 L1037.1 2421.0" stroke-width="1.2"/>
<ellipse cx="1052.7" cy="2430.6" rx="10.0" ry="7.0" transform="rotate(-5 1052.7 2430.6)" stroke-width="2.1"/>
<path d="M1050.0 2429.3 l1.3 0.9"/>
<path d="M1053.7 2428.6 l1.3 0.9"/>
<path d="M1052.0 2432.1 l1.3 0.9"/>
<path d="M1055.4 2431.3 l1.3 0.9"/>
<path d="M1052.7 2430.3 l1.3 0.9"/>
<path d="M1061.9 2432.9 L1063.9 2433.7" stroke-width="1.2"/>
<path d="M1054.4 2437.3 L1054.8 2439.4" stroke-width="1.2"/>
<path d="M1045.2 2435.0 L1043.5 2436.3" stroke-width="1.2"/>
<path d="M1043.5 2428.3 L1041.5 2427.5" stroke-width="1.2"/>
<path d="M1051.0 2423.9 L1050.6 2421.8" stroke-width="1.2"/>
<path d="M1060.2 2426.2 L1061.8 2424.8" stroke-width="1.2"/>
<ellipse cx="1077.6" cy="2436.8" rx="11.2" ry="7.7" transform="rotate(5 1077.6 2436.8)" stroke-width="2.1"/>
<path d="M1074.8 2435.6 l1.3 0.9"/>
<path d="M1078.6 2434.8 l1.3 0.9"/>
<path d="M1076.8 2438.3 l1.3 0.9"/>
<path d="M1080.3 2437.6 l1.3 0.9"/>
<path d="M1077.6 2436.6 l1.3 0.9"/>
<path d="M1087.9 2439.4 L1090.0 2440.1" stroke-width="1.2"/>
<path d="M1079.5 2444.3 L1079.9 2446.4" stroke-width="1.2"/>
<path d="M1069.2 2441.7 L1067.5 2443.0" stroke-width="1.2"/>
<path d="M1067.3 2434.2 L1065.2 2433.5" stroke-width="1.2"/>
<path d="M1075.7 2429.4 L1075.3 2427.3" stroke-width="1.2"/>
<path d="M1086.0 2431.9 L1087.7 2430.6" stroke-width="1.2"/>
<ellipse cx="1105.6" cy="2435.6" rx="7.7" ry="5.7" transform="rotate(-15 1105.6 2435.6)" stroke-width="2.1"/>
<path d="M1102.8 2434.3 l1.3 0.9"/>
<path d="M1106.6 2433.6 l1.3 0.9"/>
<path d="M1104.8 2437.1 l1.3 0.9"/>
<path d="M1108.3 2436.3 l1.3 0.9"/>
<path d="M1105.6 2435.3 l1.3 0.9"/>
<path d="M1112.7 2437.5 L1114.7 2438.2" stroke-width="1.2"/>
<path d="M1106.9 2441.1 L1107.2 2443.2" stroke-width="1.2"/>
<path d="M1099.8 2439.2 L1098.1 2440.5" stroke-width="1.2"/>
<path d="M1098.5 2433.6 L1096.4 2432.9" stroke-width="1.2"/>
<path d="M1104.3 2430.0 L1103.9 2428.0" stroke-width="1.2"/>
<path d="M1111.4 2432.0 L1113.0 2430.6" stroke-width="1.2"/>
<circle cx="1032.8" cy="2421.3" r="2.2"/><circle cx="1006.0" cy="2404.5" r="2"/><circle cx="1116.1" cy="2431.2" r="2"/>
<path d="M1049.6 2448.0 Q1052.1 2444.3 1057.1 2447.4 L1067.0 2449.2 L1077.0 2447.4 Q1083.2 2446.1 1083.8 2451.7 Q1081.9 2456.7 1083.2 2461.1 L1077.0 2462.9 M1049.6 2448.0 Q1048.3 2455.5 1050.8 2461.7 L1054.6 2462.9" stroke-width="2.3"/>
<path d="M1057.1 2451.7 L1062.0 2461.7 M1062.0 2451.1 L1068.2 2462.3 M1068.2 2451.7 L1074.5 2461.7 M1054.6 2466.7 Q1067.0 2468.5 1079.4 2466.0"/>
<circle cx="1022.8" cy="2448.6" r="2"/>
<circle cx="1036.5" cy="2438.1" r="2"/>
<circle cx="1096.9" cy="2459.2" r="2"/>
<circle cx="1090.6" cy="2453.6" r="2"/>
<path d="M1017.2 2435.6 l3 2 M1023.5 2440.5 Q1027.2 2444.3 1032.2 2443.6 M1027.2 2450.5 Q1032.2 2454.2 1038.4 2453.0 M1034.7 2456.7 l5 3 M1086.9 2450.5 Q1091.9 2448.0 1096.9 2450.5 M1088.1 2460.4 l6 0 M1100.6 2451.1 l4 2"/>
</g></g>
<rect x="1662.3" y="2338.5" width="6.6" height="123.4" fill="#ae9650"/>
</svg>
<h1 class="g hdr">
<b class="t ss" style="left:497.67px;top:110.40px;font-size:56.00px;letter-spacing:2.581px;color:#4b4a4b;transform:scaleX(1.0300);-webkit-text-stroke:0.5px #4b4a4b">UNIDAD DE POLÍTICA MIGRATORIA, REGISTRO E IDENTIDAD DE PERSONAS</b>
</h1>
<p class="g para">
<span class="t ss" style="left:93.25px;top:1008.81px;font-size:30.00px;letter-spacing:0.000px;color:#4b4a4b;transform:scaleX(1.1500);-webkit-text-stroke:0.7px #4b4a4b">•</span>
<span class="t ss" style="left:118.40px;top:998.65px;font-size:42.00px;letter-spacing:0.449px;color:#4b4a4b;transform:scaleX(1.1500);-webkit-text-stroke:0.7px #4b4a4b">Tlaxcala reportó un total de</span>
<b class="t ss" style="left:729.71px;top:999.89px;font-size:40.53px;letter-spacing:0.666px;color:#4b4a4b;transform:scaleX(1.1700);-webkit-text-stroke:1.8px #4b4a4b">18 programas, acciones y/o buenas prácticas</b>
<span class="t ss" style="left:90.90px;top:1051.75px;font-size:42.00px;letter-spacing:0.659px;color:#4b4a4b;transform:scaleX(1.1500);-webkit-text-stroke:0.7px #4b4a4b">para el cumplimiento del Pacto Mundial sobre Migración.</span>
</p>
<p class="g para">
<span class="t ss" style="left:93.25px;top:1145.20px;font-size:30.00px;letter-spacing:0.000px;color:#4b4a4b;transform:scaleX(1.1500);-webkit-text-stroke:0.7px #4b4a4b">•</span>
<span class="t ss" style="left:118.40px;top:1135.05px;font-size:42.00px;letter-spacing:-0.124px;color:#4b4a4b;transform:scaleX(1.1500);-webkit-text-stroke:0.7px #4b4a4b">Tal como se muestra en la gráfica 1, las</span>
<b class="t ss" style="left:976.31px;top:1136.29px;font-size:40.53px;letter-spacing:0.828px;color:#4b4a4b;transform:scaleX(1.1700);-webkit-text-stroke:1.8px #4b4a4b">18 actividades</b>
<span class="t ss" style="left:1324.90px;top:1135.05px;font-size:42.00px;letter-spacing:0.638px;color:#4b4a4b;transform:scaleX(1.1500);-webkit-text-stroke:0.7px #4b4a4b">reportadas por</span>
<span class="t ss" style="left:93.20px;top:1189.05px;font-size:42.00px;letter-spacing:0.215px;color:#4b4a4b;transform:scaleX(1.1500);-webkit-text-stroke:0.7px #4b4a4b">Tlaxcala, impactaron en</span>
<b class="t ss" style="left:622.31px;top:1190.29px;font-size:40.53px;letter-spacing:0.540px;color:#4b4a4b;transform:scaleX(1.1700);-webkit-text-stroke:1.8px #4b4a4b">10 objetivos</b>
<span class="t ss" style="left:916.25px;top:1189.05px;font-size:42.00px;letter-spacing:0.350px;color:#4b4a4b;transform:scaleX(1.1500);-webkit-text-stroke:0.7px #4b4a4b">del Pacto Mundial sobre Migración de los</span>
<span class="t ss" style="left:92.05px;top:1243.45px;font-size:42.00px;letter-spacing:-0.073px;color:#4b4a4b;transform:scaleX(1.1500);-webkit-text-stroke:0.7px #4b4a4b">cuales</span>
<b class="t ss" style="left:243.71px;top:1244.69px;font-size:40.53px;letter-spacing:0.744px;color:#4b4a4b;transform:scaleX(1.1700);-webkit-text-stroke:1.8px #4b4a4b">los principales son provisión de información</b>
<b class="t ss" style="left:92.68px;top:1298.69px;font-size:40.53px;letter-spacing:1.193px;color:#4b4a4b;transform:scaleX(1.1700);-webkit-text-stroke:1.8px #4b4a4b">e identidad jurídica y documentación.</b>
<span class="t ss" style="left:1004.40px;top:1297.45px;font-size:42.00px;letter-spacing:0.530px;color:#4b4a4b;transform:scaleX(1.1500);-webkit-text-stroke:0.7px #4b4a4b">También se atienden temas como:</span>
<span class="t ss" style="left:90.90px;top:1351.45px;font-size:42.00px;letter-spacing:0.285px;color:#4b4a4b;transform:scaleX(1.1500);-webkit-text-stroke:0.7px #4b4a4b">reducir las vulnerabilidades, recopilar y utilizar datos exactos y desglosados para</span>
<span class="t ss" style="left:93.20px;top:1406.15px;font-size:42.00px;letter-spacing:0.381px;color:#4b4a4b;transform:scaleX(1.1500);-webkit-text-stroke:0.7px #4b4a4b">formular políticas con base empírica, reducir los factores adversos, contratación</span>
<span class="t ss" style="left:93.20px;top:1460.15px;font-size:42.00px;letter-spacing:0.296px;color:#4b4a4b;transform:scaleX(1.1500);-webkit-text-stroke:0.7px #4b4a4b">y trabajo decente; salvar vidas, inclusión y cohesión; desarrollo y conocimiento</span>
<span class="t ss" style="left:90.90px;top:1514.15px;font-size:42.00px;letter-spacing:0.767px;color:#4b4a4b;transform:scaleX(1.1500);-webkit-text-stroke:0.7px #4b4a4b">mutuo de cualificaciones; y retorno digno y reintegración.</span>
</p>
<p class="g para">
<span class="t ss" style="left:93.25px;top:1608.81px;font-size:30.00px;letter-spacing:0.000px;color:#4b4a4b;transform:scaleX(1.1500);-webkit-text-stroke:0.7px #4b4a4b">•</span>
<span class="t ss" style="left:127.45px;top:1598.65px;font-size:42.00px;letter-spacing:0.467px;color:#4b4a4b;transform:scaleX(1.1500);-webkit-text-stroke:0.7px #4b4a4b">Es importante señalar que</span>
<b class="t ss" style="left:716.21px;top:1599.89px;font-size:40.53px;letter-spacing:1.166px;color:#4b4a4b;transform:scaleX(1.1700);-webkit-text-stroke:1.8px #4b4a4b">un programa puede tener impacto en más</b>
<b class="t ss" style="left:92.68px;top:1652.99px;font-size:40.53px;letter-spacing:0.600px;color:#4b4a4b;transform:scaleX(1.1700);-webkit-text-stroke:1.8px #4b4a4b">de un <span class="sc">ODS</span>.</b>
</p>
<p class="g para">
<span class="t ss" style="left:93.25px;top:1746.11px;font-size:30.00px;letter-spacing:0.000px;color:#4b4a4b;transform:scaleX(1.1500);-webkit-text-stroke:0.7px #4b4a4b">•</span>
<span class="t ss" style="left:118.40px;top:1735.95px;font-size:42.00px;letter-spacing:0.235px;color:#4b4a4b;transform:scaleX(1.1500);-webkit-text-stroke:0.7px #4b4a4b">Tal como se muestra en la gráfica 2,</span>
<b class="t ss" style="left:913.11px;top:1737.19px;font-size:40.53px;letter-spacing:0.205px;color:#4b4a4b;transform:scaleX(1.1700);-webkit-text-stroke:1.8px #4b4a4b">los resultados de las 18 actividades</b>
<b class="t ss" style="left:91.51px;top:1790.39px;font-size:40.53px;letter-spacing:0.390px;color:#4b4a4b;transform:scaleX(1.1700);-webkit-text-stroke:1.8px #4b4a4b">reportadas se alinearon a algún <span class="sc">ODS</span>.</b>
</p>
<p class="g para">
<span class="t ss" style="left:93.25px;top:1883.51px;font-size:30.00px;letter-spacing:0.000px;color:#4b4a4b;transform:scaleX(1.1500);-webkit-text-stroke:0.7px #4b4a4b">•</span>
<span class="t ss" style="left:116.95px;top:1873.35px;font-size:42.00px;letter-spacing:-0.122px;color:#4b4a4b;transform:scaleX(1.1500);-webkit-text-stroke:0.7px #4b4a4b">Para Tlaxcala, se registró que</span>
<b class="t ss" style="left:766.88px;top:1874.59px;font-size:40.53px;letter-spacing:0.666px;color:#4b4a4b;transform:scaleX(1.1700);-webkit-text-stroke:1.8px #4b4a4b">el <span class="sc">ODS</span> con mayor incidencia es el 10, relativo</b>
<b class="t ss" style="left:92.68px;top:1932.29px;font-size:40.53px;letter-spacing:0.825px;color:#4b4a4b;transform:scaleX(1.1700);-webkit-text-stroke:1.8px #4b4a4b">a la reducción de las desigualdades con un 94% del registro,</b>
<span class="t ss" style="left:1532.80px;top:1931.05px;font-size:42.00px;letter-spacing:0.602px;color:#4b4a4b;transform:scaleX(1.1500);-webkit-text-stroke:0.7px #4b4a4b">y la atención</span>
<span class="t ss" style="left:92.05px;top:1988.25px;font-size:42.00px;letter-spacing:0.591px;color:#4b4a4b;transform:scaleX(1.1500);-webkit-text-stroke:0.7px #4b4a4b">al trabajo decente y el crecimiento económico referente al objetivo 8 con un</span>
<span class="t ss" style="left:90.90px;top:2047.35px;font-size:42.00px;letter-spacing:0.193px;color:#4b4a4b;transform:scaleX(1.1500);-webkit-text-stroke:0.7px #4b4a4b">6% del registro.</span>
</p>
<h2 class="g ctitle">
<b class="t ss" style="left:2005.94px;top:243.64px;font-size:31.84px;letter-spacing:2.686px;color:#4b4a4b;transform:scaleX(1.1200);-webkit-text-stroke:1.0px #4b4a4b">Gráfica 1.</b>
<span class="t ss" style="left:2210.22px;top:242.67px;font-size:33.00px;letter-spacing:2.773px;color:#4b4a4b;transform:scaleX(1.0800);-webkit-text-stroke:0.7px #4b4a4b">PROGRAMAS, ACCIONES Y/O BUENAS PRÁCTICAS</span>
<span class="t ss" style="left:2052.89px;top:284.37px;font-size:33.00px;letter-spacing:3.198px;color:#4b4a4b;transform:scaleX(1.0800);-webkit-text-stroke:0.9px #4b4a4b">ALINEADAS A LOS 23 OBJETIVOS DEL PACTO MUNDIAL</span>
<span class="t ss" style="left:2037.63px;top:326.07px;font-size:33.00px;letter-spacing:3.112px;color:#4b4a4b;transform:scaleX(1.0800);-webkit-text-stroke:0.9px #4b4a4b">PARA UNA MIGRACIÓN SEGURA, ORDENADA Y REGULAR</span>
</h2>
<h3 class="g lh">
<b class="t ss" style="left:1964.29px;top:1078.10px;font-size:28.47px;letter-spacing:3.390px;color:#4b4a4b;transform:scaleX(1.1000);-webkit-text-stroke:0.7px #4b4a4b">Objetivos del Pacto Mundial</b>
</h3>
<div class="g lst">
<span class="t ss" style="left:1963.21px;top:1139.25px;font-size:29.00px;letter-spacing:0.503px;color:#3d4c54;transform:scaleX(1.1200);-webkit-text-stroke:0.8px #3d4c54">1. Datos</span>
<span class="t ss" style="left:1964.33px;top:1177.05px;font-size:29.00px;letter-spacing:1.513px;color:#3d4c54;transform:scaleX(1.1200);-webkit-text-stroke:0.8px #3d4c54">2. Reducir los factores adversos</span>
<b class="t ss" style="left:1965.71px;top:1215.41px;font-size:27.98px;letter-spacing:1.234px;color:#3d4c54;transform:scaleX(1.1800);-webkit-text-stroke:1.2px #3d4c54">3. Provisión de información</b>
<b class="t ss" style="left:1965.71px;top:1253.21px;font-size:27.98px;letter-spacing:1.494px;color:#3d4c54;transform:scaleX(1.1800);-webkit-text-stroke:1.2px #3d4c54">4. Identidad jurídica y</b>
<b class="t ss" style="left:1964.53px;top:1290.71px;font-size:27.98px;letter-spacing:1.501px;color:#3d4c54;transform:scaleX(1.1800);-webkit-text-stroke:1.2px #3d4c54">documentación</b>
<span class="t ss" style="left:1964.33px;top:1327.35px;font-size:29.00px;letter-spacing:1.956px;color:#3d4c54;transform:scaleX(1.1200);-webkit-text-stroke:0.8px #3d4c54">6. Contratación y trabajo decente</span>
</div>
<div class="g lst">
<span class="t ss" style="left:2620.73px;top:1139.25px;font-size:29.00px;letter-spacing:1.840px;color:#3d4c54;transform:scaleX(1.1200);-webkit-text-stroke:0.8px #3d4c54">7. Reducir vulnerabilidades</span>
<span class="t ss" style="left:2620.73px;top:1177.05px;font-size:29.00px;letter-spacing:1.222px;color:#3d4c54;transform:scaleX(1.1200);-webkit-text-stroke:0.8px #3d4c54">8. Salvar vidas</span>
<span class="t ss" style="left:2619.61px;top:1214.55px;font-size:29.00px;letter-spacing:1.511px;color:#3d4c54;transform:scaleX(1.1200);-webkit-text-stroke:0.8px #3d4c54">16. Inclusión y cohesión</span>
<span class="t ss" style="left:2619.61px;top:1252.35px;font-size:29.00px;letter-spacing:1.966px;color:#3d4c54;transform:scaleX(1.1200);-webkit-text-stroke:0.8px #3d4c54">18. Desarrollo y conocimiento mutuo</span>
<span class="t ss" style="left:2620.73px;top:1289.85px;font-size:29.00px;letter-spacing:1.980px;color:#3d4c54;transform:scaleX(1.1200);-webkit-text-stroke:0.8px #3d4c54">de cualificaciones</span>
<span class="t ss" style="left:2620.73px;top:1327.35px;font-size:29.00px;letter-spacing:2.027px;color:#3d4c54;transform:scaleX(1.1200);-webkit-text-stroke:0.8px #3d4c54">6. Retorno digno y reintegración</span>
</div>
<h2 class="g ctitle">
<b class="t ss" style="left:2017.94px;top:1450.74px;font-size:31.84px;letter-spacing:3.579px;color:#4b4a4b;transform:scaleX(1.1200);-webkit-text-stroke:1.0px #4b4a4b">Gráfica 2.</b>
<span class="t ss" style="left:2229.33px;top:1449.77px;font-size:33.00px;letter-spacing:3.032px;color:#4b4a4b;transform:scaleX(1.0800);-webkit-text-stroke:0.9px #4b4a4b">RESULTADOS ALINEADOS A LOS OBJETIVOS</span>
<span class="t ss" style="left:2210.33px;top:1490.27px;font-size:33.00px;letter-spacing:2.360px;color:#4b4a4b;transform:scaleX(1.0800);-webkit-text-stroke:0.9px #4b4a4b">DE DESARROLLO SOSTENIBLE (<span class="sc">ODS</span>)</span>
</h2>
<h3 class="g lh">
<b class="t ss" style="left:1964.29px;top:1986.10px;font-size:28.47px;letter-spacing:3.152px;color:#4b4a4b;transform:scaleX(1.1000);-webkit-text-stroke:0.7px #4b4a4b">Objetivos de Desarrollo Sostenible</b>
</h3>
<div class="g lst">
<span class="t ss" style="left:1964.33px;top:2043.75px;font-size:29.00px;letter-spacing:2.020px;color:#3d4c54;transform:scaleX(1.1200);-webkit-text-stroke:0.8px #3d4c54">8. Trabajo decente y crecimiento económico</span>
<b class="t ss" style="left:1964.33px;top:2080.91px;font-size:27.98px;letter-spacing:0.266px;color:#4b4a4b;transform:scaleX(1.1200);-webkit-text-stroke:0.8px #4b4a4b">10. Reducción de las desigualdades</b>
</div>
<p class="g src">
<span class="t ss" style="left:1963.21px;top:2174.95px;font-size:29.00px;letter-spacing:1.823px;color:#3d4c54;transform:scaleX(1.1200);-webkit-text-stroke:0.8px #3d4c54">Fuente: Unidad de Política Migratoria, Registro e Identidad de Personas</span>
</p>
<div class="g legend">
<span class="t ss" style="left:2768.15px;top:1630.51px;font-size:32.00px;letter-spacing:2.619px;color:#3d4c54;transform:scaleX(1.1000);-webkit-text-stroke:1.0px #3d4c54">Objetivo 10</span>
<span class="t ss" style="left:2768.15px;top:1690.31px;font-size:32.00px;letter-spacing:3.302px;color:#3d4c54;transform:scaleX(1.1000);-webkit-text-stroke:1.0px #3d4c54">Objetivo 8</span>
</div>
<div class="g pielab">
<b class="t ss" style="left:2397.32px;top:1577.53px;font-size:27.02px;letter-spacing:2.319px;color:#3a484f;transform:scaleX(1.0800);-webkit-text-stroke:0.6px #3a484f">6%</b>
<b class="t ss" style="left:2430.25px;top:1821.43px;font-size:27.02px;letter-spacing:2.372px;color:#ffffff;transform:scaleX(1.0000);-webkit-text-stroke:0.5px #ffffff">94%</b>
</div>
<h2 class="g subtitle">
<b class="t ss" style="left:975.15px;top:759.10px;font-size:56.93px;letter-spacing:2.038px;color:#08309a;transform:scaleX(1.0600);-webkit-text-stroke:1.0px #08309a">Para una Migración Segura,</b>
<b class="t ss" style="left:976.21px;top:829.20px;font-size:56.93px;letter-spacing:3.553px;color:#08309a;transform:scaleX(1.0600);-webkit-text-stroke:1.0px #08309a">Ordenada y Regular</b>
<b class="t ss" style="left:1640.21px;top:829.20px;font-size:56.93px;letter-spacing:3.295px;color:#08309a;transform:scaleX(1.0600);-webkit-text-stroke:1.0px #08309a">(<span class="sc2">PMM</span>)</b>
</h2>
<div class="g gob">
<b class="t sf" style="left:1192.73px;top:2328.54px;font-size:55.00px;letter-spacing:-0.066px;color:#950f54;transform:scaleX(1.0500);-webkit-text-stroke:1.2px #950f54">GOBIERNO DE</b>
<b class="t sf" style="left:1194.20px;top:2387.05px;font-size:89.50px;letter-spacing:2.488px;color:#950f54;transform:scaleX(1.0500);-webkit-text-stroke:2.0px #950f54">MÉXICO</b>
</div>
<div class="g sec">
<span class="t sf" style="left:1724.00px;top:2360.48px;font-size:82.30px;letter-spacing:0.138px;color:#950f54;transform:scaleX(1.0000);-webkit-text-stroke:2.2px #950f54">GOBERNACIÓN</span>
<b class="t ss" style="left:1727.16px;top:2448.61px;font-size:15.70px;letter-spacing:1.461px;color:#ae9650;transform:scaleX(1.1000);-webkit-text-stroke:0.3px #ae9650">SECRETARÍA DE GOBERNACIÓN</b>
</div>
<div class="g tlax">
<span class="t ss" style="left:117.11px;top:694.82px;font-size:228.80px;letter-spacing:33.276px;color:#3c7766;transform:scaleX(0.4960);text-shadow:-15.50px -3.30px 0 #3c7766,-15.50px 0.00px 0 #3c7766,-15.50px 3.30px 0 #3c7766,-11.62px -3.30px 0 #3c7766,-11.62px 0.00px 0 #3c7766,-11.62px 3.30px 0 #3c7766,-7.75px -3.30px 0 #3c7766,-7.75px 0.00px 0 #3c7766,-7.75px 3.30px 0 #3c7766,-3.88px -3.30px 0 #3c7766,-3.88px 0.00px 0 #3c7766,-3.88px 3.30px 0 #3c7766,0.00px -3.30px 0 #3c7766,0.00px 3.30px 0 #3c7766,3.88px -3.30px 0 #3c7766,3.88px 0.00px 0 #3c7766,3.88px 3.30px 0 #3c7766,7.75px -3.30px 0 #3c7766,7.75px 0.00px 0 #3c7766,7.75px 3.30px 0 #3c7766,11.62px -3.30px 0 #3c7766,11.62px 0.00px 0 #3c7766,11.62px 3.30px 0 #3c7766,15.50px -3.30px 0 #3c7766,15.50px 0.00px 0 #3c7766,15.50px 3.30px 0 #3c7766">TLAXCALA</span>
</div>
<div class="g pacto">
<span class="t ss" style="left:974.38px;top:577.26px;font-size:176.10px;letter-spacing:19.690px;color:#a8914a;transform:scaleX(0.4900);text-shadow:-10.50px -2.67px 0 #a8914a,-10.50px 0.00px 0 #a8914a,-10.50px 2.67px 0 #a8914a,-7.88px -2.67px 0 #a8914a,-7.88px 0.00px 0 #a8914a,-7.88px 2.67px 0 #a8914a,-5.25px -2.67px 0 #a8914a,-5.25px 0.00px 0 #a8914a,-5.25px 2.67px 0 #a8914a,-2.62px -2.67px 0 #a8914a,-2.62px 0.00px 0 #a8914a,-2.62px 2.67px 0 #a8914a,0.00px -2.67px 0 #a8914a,0.00px 2.67px 0 #a8914a,2.62px -2.67px 0 #a8914a,2.62px 0.00px 0 #a8914a,2.62px 2.67px 0 #a8914a,5.25px -2.67px 0 #a8914a,5.25px 0.00px 0 #a8914a,5.25px 2.67px 0 #a8914a,7.88px -2.67px 0 #a8914a,7.88px 0.00px 0 #a8914a,7.88px 2.67px 0 #a8914a,10.50px -2.67px 0 #a8914a,10.50px 0.00px 0 #a8914a,10.50px 2.67px 0 #a8914a">PACTO</span>
<span class="t ss" style="left:1342.68px;top:577.26px;font-size:176.10px;letter-spacing:17.988px;color:#a8914a;transform:scaleX(0.5300);text-shadow:-10.00px -2.67px 0 #a8914a,-10.00px 0.00px 0 #a8914a,-10.00px 2.67px 0 #a8914a,-7.50px -2.67px 0 #a8914a,-7.50px 0.00px 0 #a8914a,-7.50px 2.67px 0 #a8914a,-5.00px -2.67px 0 #a8914a,-5.00px 0.00px 0 #a8914a,-5.00px 2.67px 0 #a8914a,-2.50px -2.67px 0 #a8914a,-2.50px 0.00px 0 #a8914a,-2.50px 2.67px 0 #a8914a,0.00px -2.67px 0 #a8914a,0.00px 2.67px 0 #a8914a,2.50px -2.67px 0 #a8914a,2.50px 0.00px 0 #a8914a,2.50px 2.67px 0 #a8914a,5.00px -2.67px 0 #a8914a,5.00px 0.00px 0 #a8914a,5.00px 2.67px 0 #a8914a,7.50px -2.67px 0 #a8914a,7.50px 0.00px 0 #a8914a,7.50px 2.67px 0 #a8914a,10.00px -2.67px 0 #a8914a,10.00px 0.00px 0 #a8914a,10.00px 2.67px 0 #a8914a">MUNDIAL</span>
</div>
</div>
</body>
</html>
